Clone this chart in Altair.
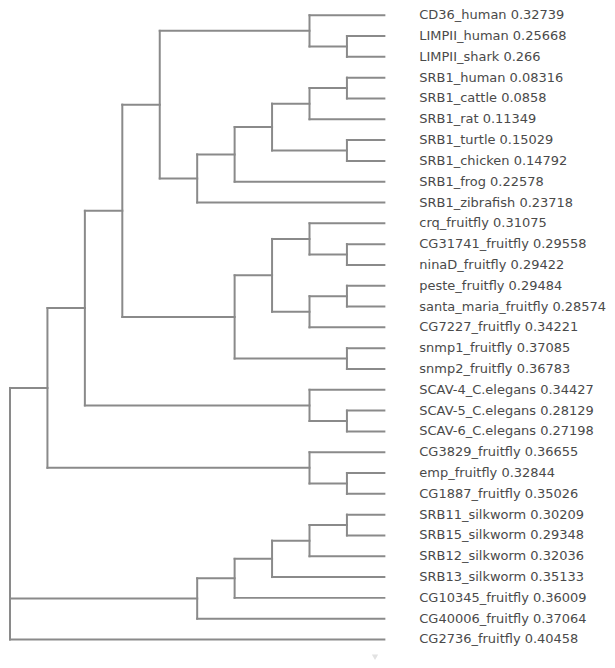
import altair as alt
import pandas as pd

# Leaf labels (top to bottom) and their values
names = [
    "CD36_human", "LIMPII_human", "LIMPII_shark", "SRB1_human", "SRB1_cattle",
    "SRB1_rat", "SRB1_turtle", "SRB1_chicken", "SRB1_frog", "SRB1_zibrafish",
    "crq_fruitfly", "CG31741_fruitfly", "ninaD_fruitfly", "peste_fruitfly",
    "santa_maria_fruitfly", "CG7227_fruitfly", "snmp1_fruitfly", "snmp2_fruitfly",
    "SCAV-4_C.elegans", "SCAV-5_C.elegans", "SCAV-6_C.elegans", "CG3829_fruitfly",
    "emp_fruitfly", "CG1887_fruitfly", "SRB11_silkworm", "SRB15_silkworm",
    "SRB12_silkworm", "SRB13_silkworm", "CG10345_fruitfly", "CG40006_fruitfly",
    "CG2736_fruitfly",
]
values = [
    "0.32739", "0.25668", "0.266", "0.08316", "0.0858", "0.11349", "0.15029",
    "0.14792", "0.22578", "0.23718", "0.31075", "0.29558", "0.29422", "0.29484",
    "0.28574", "0.34221", "0.37085", "0.36783", "0.34427", "0.28129", "0.27198",
    "0.36655", "0.32844", "0.35026", "0.30209", "0.29348", "0.32036", "0.35133",
    "0.36009", "0.37064", "0.40458",
]

# Tree topology (leaf indices, nested)
clade_a = [0, [1, 2]]
clade_b = [[[[[3, 4], 5], [6, 7]], 8], 9]
clade_c = [[[10, [11, 12]], [[13, 14], 15]], [16, 17]]
clade_d = [18, [19, 20]]
clade_e = [21, [22, 23]]
clade_f = [[[[[24, 25], 26], 27], 28], 29]
tree = [[[[[clade_a, clade_b], clade_c], clade_d], clade_e], clade_f, 30]

# Cladogram layout: x column = (root height - node height), y = leaf order
segs = []


def layout(node):
    if isinstance(node, int):
        return 0, float(node)
    kids = [layout(c) for c in node]
    h = max(k[0] for k in kids) + 1
    ys = [k[1] for k in kids]
    y = (ys[0] + ys[-1]) / 2 if len(kids) == 2 else ys[0]
    segs.append({"h": h, "kids": kids, "ymin": min(ys), "ymax": max(ys)})
    return h, y


root_h, _ = layout(tree)
rows = []
for n in segs:
    px = root_h - n["h"]
    rows.append({"x": px, "x2": px, "y": n["ymin"], "y2": n["ymax"]})
    for ch, cy in n["kids"]:
        rows.append({"x": px, "x2": root_h - ch, "y": cy, "y2": cy})
seg_df = pd.DataFrame(rows)

leaf_df = pd.DataFrame({
    "x": [root_h] * len(names),
    "y": list(range(len(names))),
    "label": [f"{n} {v}" for n, v in zip(names, values)],
})

xs = alt.Scale(domain=[0, root_h], range=[0, 375])
ys = alt.Scale(domain=[0, len(names) - 1], range=[4.7, 630])

lines = alt.Chart(seg_df).mark_rule(
    color="#8a8a8a", strokeWidth=2, strokeCap="square"
).encode(
    x=alt.X("x:Q", scale=xs, axis=None),
    x2="x2:Q",
    y=alt.Y("y:Q", scale=ys, axis=None),
    y2="y2:Q",
)

labels = alt.Chart(leaf_df).mark_text(
    align="left", baseline="middle", dx=35, font="DejaVu Sans",
    fontSize=13, color="#4a4a4a",
).encode(
    x=alt.X("x:Q", scale=xs, axis=None),
    y=alt.Y("y:Q", scale=ys, axis=None),
    text="label:N",
)

arrow_df = pd.DataFrame({"x": [9.75], "y": [30.85]})
arrow = alt.Chart(arrow_df).mark_point(
    shape="triangle-down", filled=True, size=40, color="#e2e2e2", opacity=1
).encode(
    x=alt.X("x:Q", scale=xs, axis=None),
    y=alt.Y("y:Q", scale=ys, axis=None),
)

chart = (lines + labels + arrow).properties(
    width=595, height=650, padding=0
).configure(
    background="white", view=alt.ViewConfig(stroke=None)
)

chart.save("out.html", embed_options={"renderer": "svg", "actions": False})
